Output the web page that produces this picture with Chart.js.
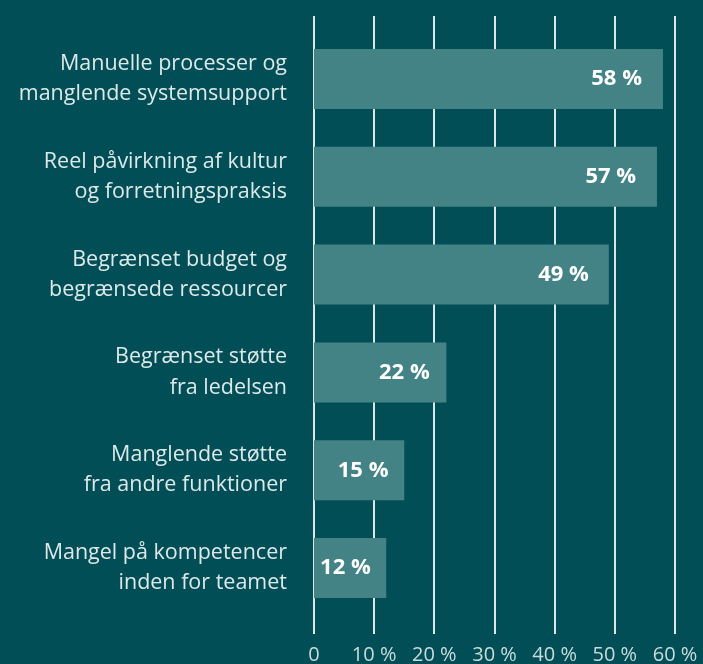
<!DOCTYPE html>
<html>
<head>
<meta charset="utf-8">
<script src="https://cdn.jsdelivr.net/npm/chart.js@4"></script>
<style>
  html, body { margin: 0; padding: 0; background: #014e57; }
  #wrap { width: 703px; height: 664px; position: relative; }
</style>
</head>
<body>
<div id="wrap"><canvas id="c" width="703" height="664"></canvas></div>
<script>
const categories = [
  ["Manuelle processer og", "manglende systemsupport"],
  ["Reel påvirkning af kultur", "og forretningspraksis"],
  ["Begrænset budget og", "begrænsede ressourcer"],
  ["Begrænset støtte", "fra ledelsen"],
  ["Manglende støtte", "fra andre funktioner"],
  ["Mangel på kompetencer", "inden for teamet"]
];
const values = [58, 57, 49, 22, 15, 12];
const valueLabels = ["58 %", "57 %", "49 %", "22 %", "15 %", "12 %"];
const xTickLabels = ["0", "10 %", "20 %", "30 %", "40 %", "50 %", "60 %"];

const BG = '#014e57';
const BAR = '#438385';
const GRID = '#d9e7e6';
const TEXT = '#dde9e8';
const FONT = '"Open Sans", Lato, sans-serif';

const bgPlugin = {
  id: 'bg',
  beforeDraw(chart) {
    const ctx = chart.ctx;
    ctx.save();
    ctx.fillStyle = BG;
    ctx.fillRect(0, 0, chart.width, chart.height);
    ctx.restore();
  }
};

const gridPlugin = {
  id: 'extGrid',
  beforeDatasetsDraw(chart) {
    const x = chart.scales.x, a = chart.chartArea, ctx = chart.ctx;
    ctx.save();
    ctx.strokeStyle = GRID;
    ctx.lineWidth = 2;
    x.ticks.forEach(t => {
      const px = Math.round(x.getPixelForValue(t.value));
      ctx.beginPath();
      ctx.moveTo(px, a.top - 14);
      ctx.lineTo(px, a.bottom + 17);
      ctx.stroke();
    });
    ctx.restore();
  }
};

const valuePlugin = {
  id: 'valueLabels',
  afterDatasetsDraw(chart) {
    const ctx = chart.ctx;
    const meta = chart.getDatasetMeta(0);
    ctx.save();
    ctx.fillStyle = '#ffffff';
    ctx.font = 'bold 22px ' + FONT;
    ctx.textAlign = 'right';
    ctx.textBaseline = 'middle';
    meta.data.forEach((bar, i) => {
      const w = bar.x - bar.base;
      ctx.fillText(valueLabels[i], bar.x - (14 + 0.02 * w), bar.y);
    });
    ctx.restore();
  }
};

new Chart(document.getElementById('c'), {
  type: 'bar',
  data: {
    labels: categories,
    datasets: [{
      data: values,
      backgroundColor: BAR,
      borderWidth: 0,
      barPercentage: 0.613,
      categoryPercentage: 1.0
    }]
  },
  plugins: [bgPlugin, gridPlugin, valuePlugin],
  options: {
    indexAxis: 'y',
    responsive: false,
    animation: false,
    events: [],
    layout: { padding: { top: 30, right: 28, left: 0, bottom: 0 } },
    plugins: { legend: { display: false }, tooltip: { enabled: false } },
    scales: {
      x: {
        type: 'linear',
        min: 0, max: 60,
        grid: { display: false, drawTicks: false },
        border: { display: false },
        ticks: {
          stepSize: 10,
          color: '#c9dcdb',
          font: { family: FONT, size: 20 },
          padding: 26,
          maxRotation: 0,
          autoSkip: false,
          callback: (v, i) => xTickLabels[i]
        },
        afterFit: s => { s.height = 47; s.paddingLeft = 0; s.paddingRight = 0; }
      },
      y: {
        grid: { display: false, drawTicks: false },
        border: { display: false },
        ticks: {
          color: TEXT,
          font: { family: FONT, size: 21.5, lineHeight: 1.4 },
          padding: 27,
          autoSkip: false
        },
        afterFit: s => { s.width = 314; s.paddingTop = 0; s.paddingBottom = 0; }
      }
    }
  }
});
</script>
</body>
</html>
